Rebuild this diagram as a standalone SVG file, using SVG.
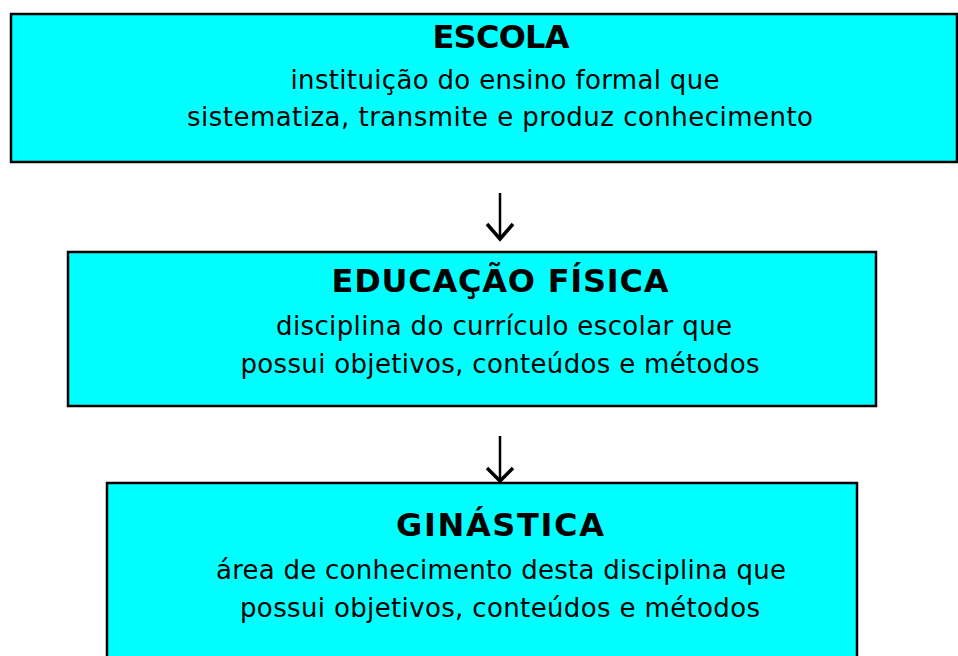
<svg xmlns="http://www.w3.org/2000/svg" width="958" height="656" viewBox="0 0 958 656">
<style>
.box{fill:#00ffff;stroke:#000;stroke-width:2.5}
.t{font-family:"DejaVu Sans",sans-serif;font-weight:bold;font-size:32px;text-anchor:middle;fill:#000}
.b{font-family:"DejaVu Sans",sans-serif;font-size:26px;text-anchor:middle;fill:#000}
.c{fill:none;stroke:#000;stroke-width:2.5}
.h{fill:none;stroke:#000;stroke-width:3.5;stroke-linejoin:miter}
</style>
<rect width="958" height="656" fill="#fff"/>
<g id="escola">
<rect class="box" x="11" y="14" width="946" height="148"/>
<text class="t" x="501" y="48" textLength="137">ESCOLA</text>
<text class="b" x="505" y="89" textLength="429">instituição do ensino formal que</text>
<text class="b" x="500" y="126" textLength="626">sistematiza, transmite e produz conhecimento</text>
</g>
<g id="educacao">
<rect class="box" x="68" y="252" width="808" height="154"/>
<text class="t" x="500" y="292" textLength="337">EDUCAÇÃO FÍSICA</text>
<text class="b" x="504" y="335" textLength="456">disciplina do currículo escolar que</text>
<text class="b" x="500" y="373" textLength="519">possui objetivos, conteúdos e métodos</text>
</g>
<g id="ginastica">
<rect class="box" x="107" y="483" width="750" height="180"/>
<text class="t" x="500" y="536" textLength="208">GINÁSTICA</text>
<text class="b" x="501" y="579" textLength="570">área de conhecimento desta disciplina que</text>
<text class="b" x="500" y="617" textLength="520">possui objetivos, conteúdos e métodos</text>
</g>
<g id="connectors">
<path class="c" d="M500 193 V238"/>
<path class="h" d="M487 224 L500 239 L513 224"/>
<path class="c" d="M500 436 V480"/>
<path class="h" d="M487 468 L500 481 L513 468"/>
</g>
</svg>
